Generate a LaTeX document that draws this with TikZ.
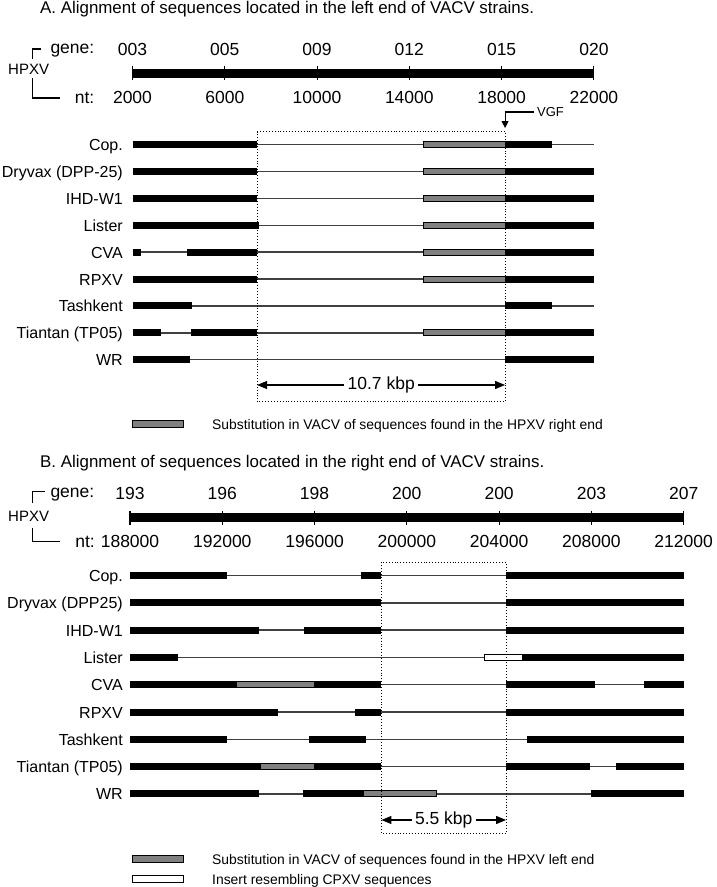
\documentclass[tikz,border=0pt]{standalone}
\usepackage{fontspec}
\setmainfont{Liberation Sans}
\usetikzlibrary{arrows.meta, positioning}

\begin{document}
\begin{tikzpicture}[
        x=1pt, y=-1pt,
        titulo/.style={font=\fontsize{16.9}{20}\selectfont, anchor=base west, inner sep=0pt},
        etiq/.style={font=\fontsize{17.5}{20}\selectfont, anchor=base, inner sep=0pt},
        virus/.style={font=\fontsize{15}{18}\selectfont, anchor=base west, inner sep=0pt},
        cepa/.style={font=\fontsize{16}{19}\selectfont, anchor=base east, inner sep=0pt},
        leyenda/.style={font=\fontsize{13.9}{16}\selectfont, anchor=base west, inner sep=0pt},
        cota/.style={font=\fontsize{17.5}{20}\selectfont, inner sep=0pt, inner xsep=3pt},
        eje/.style={line width=9pt},
        marca/.style={line width=1.1pt},
        llave/.style={line width=1.1pt},
        hebra/.style={line width=1.4pt, black!75},
        negro/.style={line width=7pt},
        gris/.style={fill=black!50, draw=black, line width=0.9pt},
        blanco/.style={fill=white, draw=black, line width=0.9pt},
        caja/.style={dotted, line width=0.9pt},
        flecha/.style={-{Triangle[length=10pt, width=8pt]}, line width=1.2pt},
        muestra/.style={minimum width=51pt, minimum height=7pt, inner sep=0pt}
    ]

    \useasboundingbox (0,0) rectangle (716,887);

    % ===================== A: extremo izquierdo =====================
    \node[titulo] (tituloA) at (40,13)
        {A. Alignment of sequences located in the left end of VACV strains.};

    % Encabezado HPXV
    \node[virus] (hpxvA) at (8,74.5) {HPXV};
    \node[etiq, anchor=base east] (geneA) at (94.5,53) {gene:};
    \node[etiq, anchor=base east] (ntA) at (94.5,103) {nt:};
    \draw[llave] (40.7,49) -| (32.5,59.3);
    \draw[llave] (32.5,78) |- (60,98);

    % Nombres de las cepas
    \foreach \y/\nombre [count=\i] in {144.5/Cop., 171.4/Dryvax (DPP-25),
            198.3/IHD-W1, 225.2/Lister, 252.1/CVA, 279.0/RPXV,
            305.9/Tashkent, 332.8/Tiantan (TP05), 359.7/WR}
        \node[cepa] (cepaA\i) at (123,\y+6) {\nombre};

    % --- Mapa en kbp ---
    \begin{scope}[x=23.07pt, xshift=86.36pt]
        \draw[eje] (2,73.3) -- (22,73.3);
        \foreach \k/\g in {2/003, 6/005, 10/009, 14/012, 18/015, 22/020} {
            \draw[marca] (\k,66.3) -- (\k,80.3);
            \node[etiq] (genA\k) at (\k,55) {\g};
            \node[etiq] (ntA\k) at (\k,103) {\k000};
        }

        \foreach \y in {144.5, 171.4, 198.3, 225.2, 252.1, 279.0, 305.9, 332.8, 359.7}
            \draw[hebra] (2,\y) -- (22,\y);
        \foreach \y in {144.5, 171.4, 198.3, 225.2, 252.1, 279.0, 332.8}
            \draw[gris] (14.6,\y-3) rectangle (18.15,\y+3);

        \draw[negro] (2,144.5) -- (7.4,144.5) (18.15,144.5) -- (20.2,144.5);   % Cop.
        \draw[negro] (2,171.4) -- (7.4,171.4) (18.15,171.4) -- (22,171.4);     % Dryvax
        \draw[negro] (2,198.3) -- (7.4,198.3) (18.15,198.3) -- (22,198.3);     % IHD-W1
        \draw[negro] (2,225.2) -- (7.5,225.2) (18.15,225.2) -- (22,225.2);     % Lister
        \draw[negro] (2,252.1) -- (2.36,252.1) (4.37,252.1) -- (7.4,252.1)
                     (18.15,252.1) -- (22,252.1);                               % CVA
        \draw[negro] (2,279.0) -- (7.4,279.0) (18.15,279.0) -- (22,279.0);     % RPXV
        \draw[negro] (2,305.9) -- (4.57,305.9) (18.15,305.9) -- (20.2,305.9);  % Tashkent
        \draw[negro] (2,332.8) -- (3.22,332.8) (4.53,332.8) -- (7.4,332.8)
                     (18.15,332.8) -- (22,332.8);                               % Tiantan
        \draw[negro] (2,359.7) -- (4.5,359.7) (18.15,359.7) -- (22,359.7);     % WR

        % Recuadro de 10.7 kbp
        \coordinate (cajaA1) at (7.4,131.5);
        \coordinate (cajaA2) at (18.15,401.7);
        \draw[caja] (cajaA1) rectangle (cajaA2);
        \coordinate (izqA) at (7.4,385);
        \coordinate (derA) at (18.15,385);
        \node[cota] (kbpA) at (12.78,385) {10.7 kbp};
        \coordinate (vgfpunta) at (18.15,128);
    \end{scope}

    \draw[flecha] (kbpA) -- (izqA);
    \draw[flecha] (kbpA) -- (derA);

    % VGF
    \node[font=\fontsize{13}{15}\selectfont, anchor=west, inner sep=0pt,
          inner xsep=3pt] (vgf) at (534,112) {VGF};
    \draw[-{Triangle[length=7pt, width=7pt]}, line width=1.1pt] (vgf.west) -| (vgfpunta);

    % Leyenda A
    \node[muestra, gris] (muestraA) at (158,424.3) {};
    \node[leyenda] (textoA) at (212,429.3)
        {Substitution in VACV of sequences found in the HPXV right end};

    % ===================== B: extremo derecho =====================
    \node[titulo] (tituloB) at (40,467)
        {B. Alignment of sequences located in the right end of VACV strains.};

    % Encabezado HPXV
    \node[virus] (hpxvB) at (8,521.5) {HPXV};
    \node[etiq, anchor=base east] (geneB) at (94.5,497) {gene:};
    \node[etiq, anchor=base east] (ntB) at (95,547) {nt:};
    \draw[llave] (45,491.7) -| (32.5,503.3);
    \draw[llave] (32.5,528) |- (60,541.7);

    % Nombres de las cepas
    \foreach \y/\nombre [count=\i] in {575.5/Cop., 602.8/Dryvax (DPP25),
            630.1/IHD-W1, 657.4/Lister, 684.7/CVA, 712.0/RPXV,
            739.3/Tashkent, 766.6/Tiantan (TP05), 793.9/WR}
        \node[cepa] (cepaB\i) at (123,\y+6) {\nombre};

    % --- Mapa en kbp ---
    \begin{scope}[x=23.07pt, xshift=-4207.16pt]
        \draw[eje] (188,517.7) -- (212,517.7);
        \foreach \k/\g in {188/193, 192/196, 196/198, 200/200, 204/200, 208/203, 212/207} {
            \draw[marca] (\k,510.7) -- (\k,524.7);
            \node[etiq] (genB\k) at (\k,499) {\g};
            \node[etiq] (ntB\k) at (\k,547) {\k000};
        }

        \foreach \y in {575.5, 602.8, 630.1, 657.4, 684.7, 712.0, 739.3, 766.6, 793.9}
            \draw[hebra] (188,\y) -- (212,\y);

        \draw[negro] (188,575.5) -- (192.2,575.5) (198.0,575.5) -- (198.9,575.5)
                     (204.3,575.5) -- (212,575.5);                              % Cop.
        \draw[negro] (188,602.8) -- (198.9,602.8) (204.3,602.8) -- (212,602.8); % Dryvax
        \draw[negro] (188,630.1) -- (193.6,630.1) (195.55,630.1) -- (198.9,630.1)
                     (204.3,630.1) -- (212,630.1);                              % IHD-W1
        \draw[negro] (188,657.4) -- (190.1,657.4) (205.0,657.4) -- (212,657.4); % Lister
        \draw[blanco] (203.35,654.4) rectangle (205.0,660.4);
        \draw[negro] (188,684.7) -- (198.9,684.7) (204.3,684.7) -- (208.15,684.7)
                     (210.3,684.7) -- (212,684.7);                              % CVA
        \draw[gris] (192.6,681.7) rectangle (196.0,687.7);
        \draw[negro] (188,712.0) -- (194.4,712.0) (197.75,712.0) -- (198.9,712.0)
                     (204.3,712.0) -- (212,712.0);                              % RPXV
        \draw[negro] (188,739.3) -- (192.2,739.3) (195.75,739.3) -- (198.25,739.3)
                     (205.2,739.3) -- (212,739.3);                              % Tashkent
        \draw[negro] (188,766.6) -- (198.9,766.6) (204.3,766.6) -- (207.95,766.6)
                     (209.05,766.6) -- (212,766.6);                             % Tiantan
        \draw[gris] (193.65,763.6) rectangle (196.0,769.6);
        \draw[negro] (188,793.9) -- (193.6,793.9) (195.5,793.9) -- (198.1,793.9)
                     (208.0,793.9) -- (212,793.9);                              % WR
        \draw[gris] (198.1,790.9) rectangle (201.3,796.9);

        % Recuadro de 5.5 kbp
        \coordinate (cajaB1) at (198.9,562.3);
        \coordinate (cajaB2) at (204.3,833.3);
        \draw[caja] (cajaB1) rectangle (cajaB2);
        \coordinate (izqB) at (198.9,820);
        \coordinate (derB) at (204.3,820);
        \node[cota] (kbpB) at (201.6,820) {5.5 kbp};
    \end{scope}

    \draw[flecha] (kbpB) -- (izqB);
    \draw[flecha] (kbpB) -- (derB);

    % Leyenda B
    \node[muestra, gris] (muestraB) at (158,859) {};
    \node[leyenda] (textoB) at (212,864)
        {Substitution in VACV of sequences found in the HPXV left end};
    \node[muestra, blanco] (muestraC) at (158,879) {};
    \node[leyenda] (textoC) at (212,884) {Insert resembling CPXV sequences};

\end{tikzpicture}
\end{document}
